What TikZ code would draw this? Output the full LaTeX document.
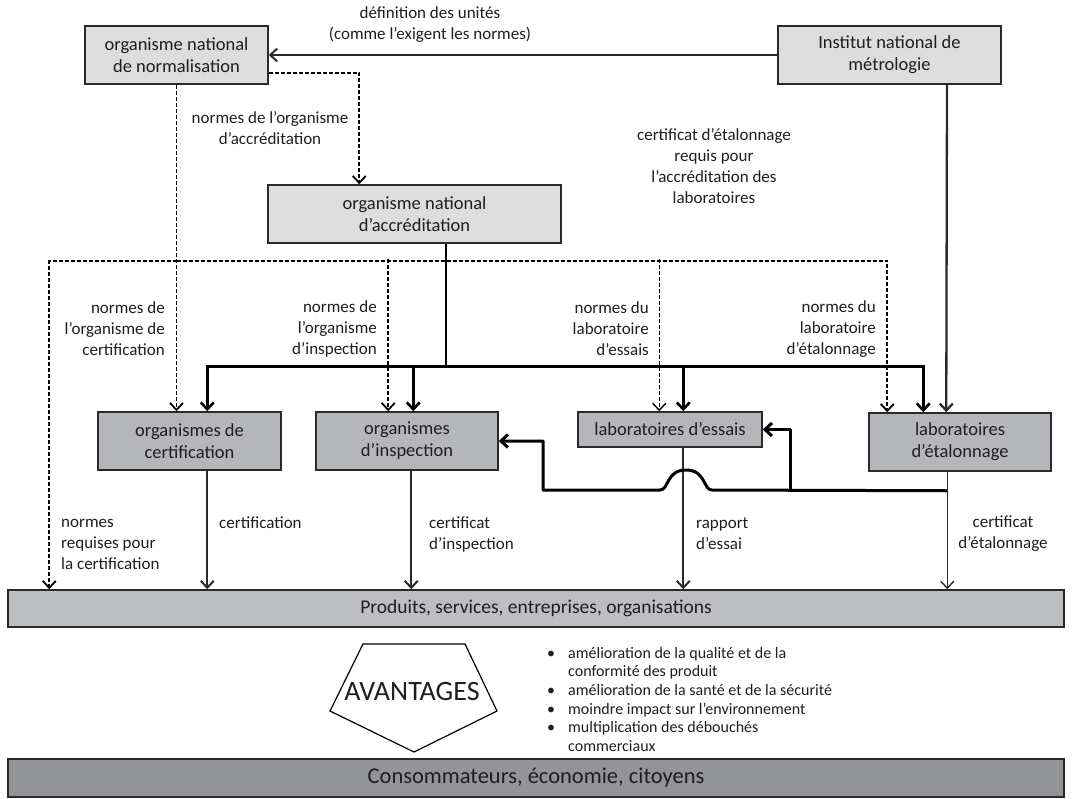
\documentclass[tikz,border=0pt]{standalone}
\usepackage{fontspec}
\setmainfont{Carlito}
\usetikzlibrary{arrows.meta,calc}
\definecolor{bordc}{HTML}{2A2A2A}
\definecolor{txtc}{HTML}{1E1E1E}
\definecolor{topfill}{HTML}{DDDDDE}
\definecolor{midfill}{HTML}{B5B6B9}
\definecolor{prodfill}{HTML}{BDBEC1}
\definecolor{consfill}{HTML}{939498}
\newcommand\bxfont{\fontsize{18.5}{22}\selectfont}
\newcommand\lbfont{\fontsize{17}{21}\selectfont}
\newcommand\blfont{\fontsize{16}{18.6}\selectfont}
\newcommand\itm{\makebox[22pt][l]{\hspace{1pt}•}}
\newcommand\ind{\hspace*{22pt}}
\begin{document}
\begin{tikzpicture}[x=1pt,y=-1pt,
  >={Straight Barb[length=7pt,width=13pt]},
  topbox/.style={draw=bordc,line width=1.5pt,fill=topfill,minimum width=183pt,minimum height=58pt,inner sep=0pt,align=center,font=\bxfont,text=txtc},
  midbox/.style={topbox,fill=midfill},
  prodbox/.style={topbox,fill=prodfill,minimum width=1056pt,minimum height=37pt,font=\fontsize{19.5}{23}\selectfont},
  consbox/.style={topbox,fill=consfill,minimum width=1056pt,minimum height=38pt,font=\fontsize{22.5}{26}\selectfont},
  lab/.style={font=\lbfont,text=txtc,inner sep=0pt},
  sol/.style={draw=bordc,line width=2pt},
  thinl/.style={draw=bordc,line width=1.4pt},
  tree/.style={draw=black,line width=2.6pt},
  fb/.style={draw=black,line width=3pt,line join=round},
  dsh/.style={draw=black,line width=1.8pt,dash pattern=on 4pt off 2pt},
]
\useasboundingbox (0,0) rectangle (1073,798);

% boxes
\node[topbox] (nnorm) at (176.5,55) {organisme national\\de normalisation};
\node[topbox,minimum width=223pt] (inm) at (889.5,55) {Institut national de\\métrologie};
\node[topbox,minimum width=293pt] (accr) at (414.5,214) {organisme national\\d’accréditation};
\node[midbox] (cert) at (189.5,441) {organismes de\\certification};
\node[midbox,minimum width=182pt] (insp) at (407,441) {organismes\\d’inspection};
\node[midbox,minimum width=184pt,minimum height=35pt] (ess) at (670,429.5) {laboratoires d’essais};
\node[midbox,minimum width=182pt] (etal) at (960,442) {laboratoires\\d’étalonnage};
\node[prodbox] (prod) at (536,608.5) {Produits, services, entreprises, organisations};
\node[consbox] (cons) at (536,778) {Consommateurs, économie, citoyens};

% pentagon
\draw[draw=black,line width=1.2pt,fill=white] (363,644) -- (465,644) -- (497,711) -- (414,752) -- (330,711) -- cycle;
\node[font=\fontsize{28}{32}\selectfont,text=txtc,inner sep=0pt] (avant) at (412,692) {AVANTAGES};

% bullets
\node[font=\blfont,text=txtc,inner sep=0pt,anchor=north west,align=left] (adv) at (546,647)
  {\itm amélioration de la qualité et de la\\
   \ind conformité des produit\\
   \itm amélioration de la santé et de la sécurité\\
   \itm moindre impact sur l’environnement\\
   \itm multiplication des débouchés\\
   \ind commerciaux};

% top connectors
\draw[sol,->] (inm.west) -- (nnorm.east);
\node[lab,align=center] (l1) at (430,25) {définition des unités\\(comme l’exigent les normes)};

\draw[dsh,->] ($(nnorm.south east)+(0,-12)$) -| ($(accr.north west)+(92,0)$);
\node[lab,align=center] (l2) at (270,128) {normes de l’organisme\\d’accréditation};

\draw[dsh,->] (nnorm.south) -- (nnorm.south |- cert.north);
\path (nnorm.south) ++(0,176) coordinate (dj);
\draw[dsh,->] (dj) -| ($(prod.north west)+(42,0)$);
\draw[dsh,->] (dj) -| ($(etal.north west)+(19,0)$);
\draw[dsh,->] ($(insp.north west)+(73,-152)$) -- ($(insp.north west)+(73,0)$);
\draw[dsh,line width=1.4pt,->] ($(ess.north west)+(82,-152)$) -- ($(ess.north west)+(82,0)$);

\node[lab,align=center] (l3) at (714,166) {certificat d’étalonnage\\requis pour\\l’accréditation des\\laboratoires};

% accreditation tree
\coordinate (tj) at ($(accr.south)+(31.5,123)$);
\draw[tree] ($(accr.south)+(31.5,0)$) -- (tj);
\draw[tree,->] (tj) -| ($(cert.north west)+(110,0)$);
\draw[tree,->] (tj) -| ($(etal.north west)+(55,0)$);
\draw[tree,->] ($(insp.north west)+(98,-46)$) -- ($(insp.north west)+(98,0)$);
\draw[tree,->] ($(ess.north west)+(106,-46)$) -- ($(ess.north west)+(106,0)$);

% INM to calibration labs
\draw[sol,line width=2.3pt,->] ($(inm.south)+(57.5,0)$) -- ($(etal.north west)+(78,0)$);

\node[lab,align=right,anchor=east] (l4) at (165,329) {normes de\\l’organisme de\\certification};
\node[lab,align=right,anchor=east] (l5) at (377,329) {normes de\\l’organisme\\d’inspection};
\node[lab,align=right,anchor=east] (l6) at (649,329) {normes du\\laboratoire\\d’essais};
\node[lab,align=right,anchor=east] (l7) at (876,329) {normes du\\laboratoire\\d’étalonnage};

% outputs
\draw[sol,->] ($(cert.south west)+(110,0)$) -- ($(prod.north west)+(200,0)$);
\draw[sol,->] ($(insp.south west)+(96,0)$) -- ($(prod.north west)+(404,0)$);
\draw[sol,->] ($(ess.south west)+(106,0)$) -- ($(prod.north west)+(676,0)$);
\draw[thinl,->] ($(etal.south west)+(79,0)$) -- ($(prod.north west)+(940,0)$);

% feedback
\coordinate (fb0) at ($(etal.south west)+(79,19)$);
\draw[fb,->] (fb0) -- (712,490) .. controls (703,490) and (706,470) .. (686,470)
   .. controls (666,470) and (669,490) .. (660,490) -- (543,490) -- (543,441) -- (insp.east);
\draw[fb,->] (790,490) |- (ess.east);

\node[lab,align=left,anchor=west] (l8) at (61,544) {normes\\requises pour\\la certification};
\node[lab,anchor=west] (l9) at (219,523) {certification};
\node[lab,align=left,anchor=west] (l10) at (429,534) {certificat\\d’inspection};
\node[lab,align=left,anchor=west] (l11) at (696,534) {rapport\\d’essai};
\node[lab,align=center] (l12) at (1003,534) {certificat\\d’étalonnage};
\end{tikzpicture}
\end{document}
